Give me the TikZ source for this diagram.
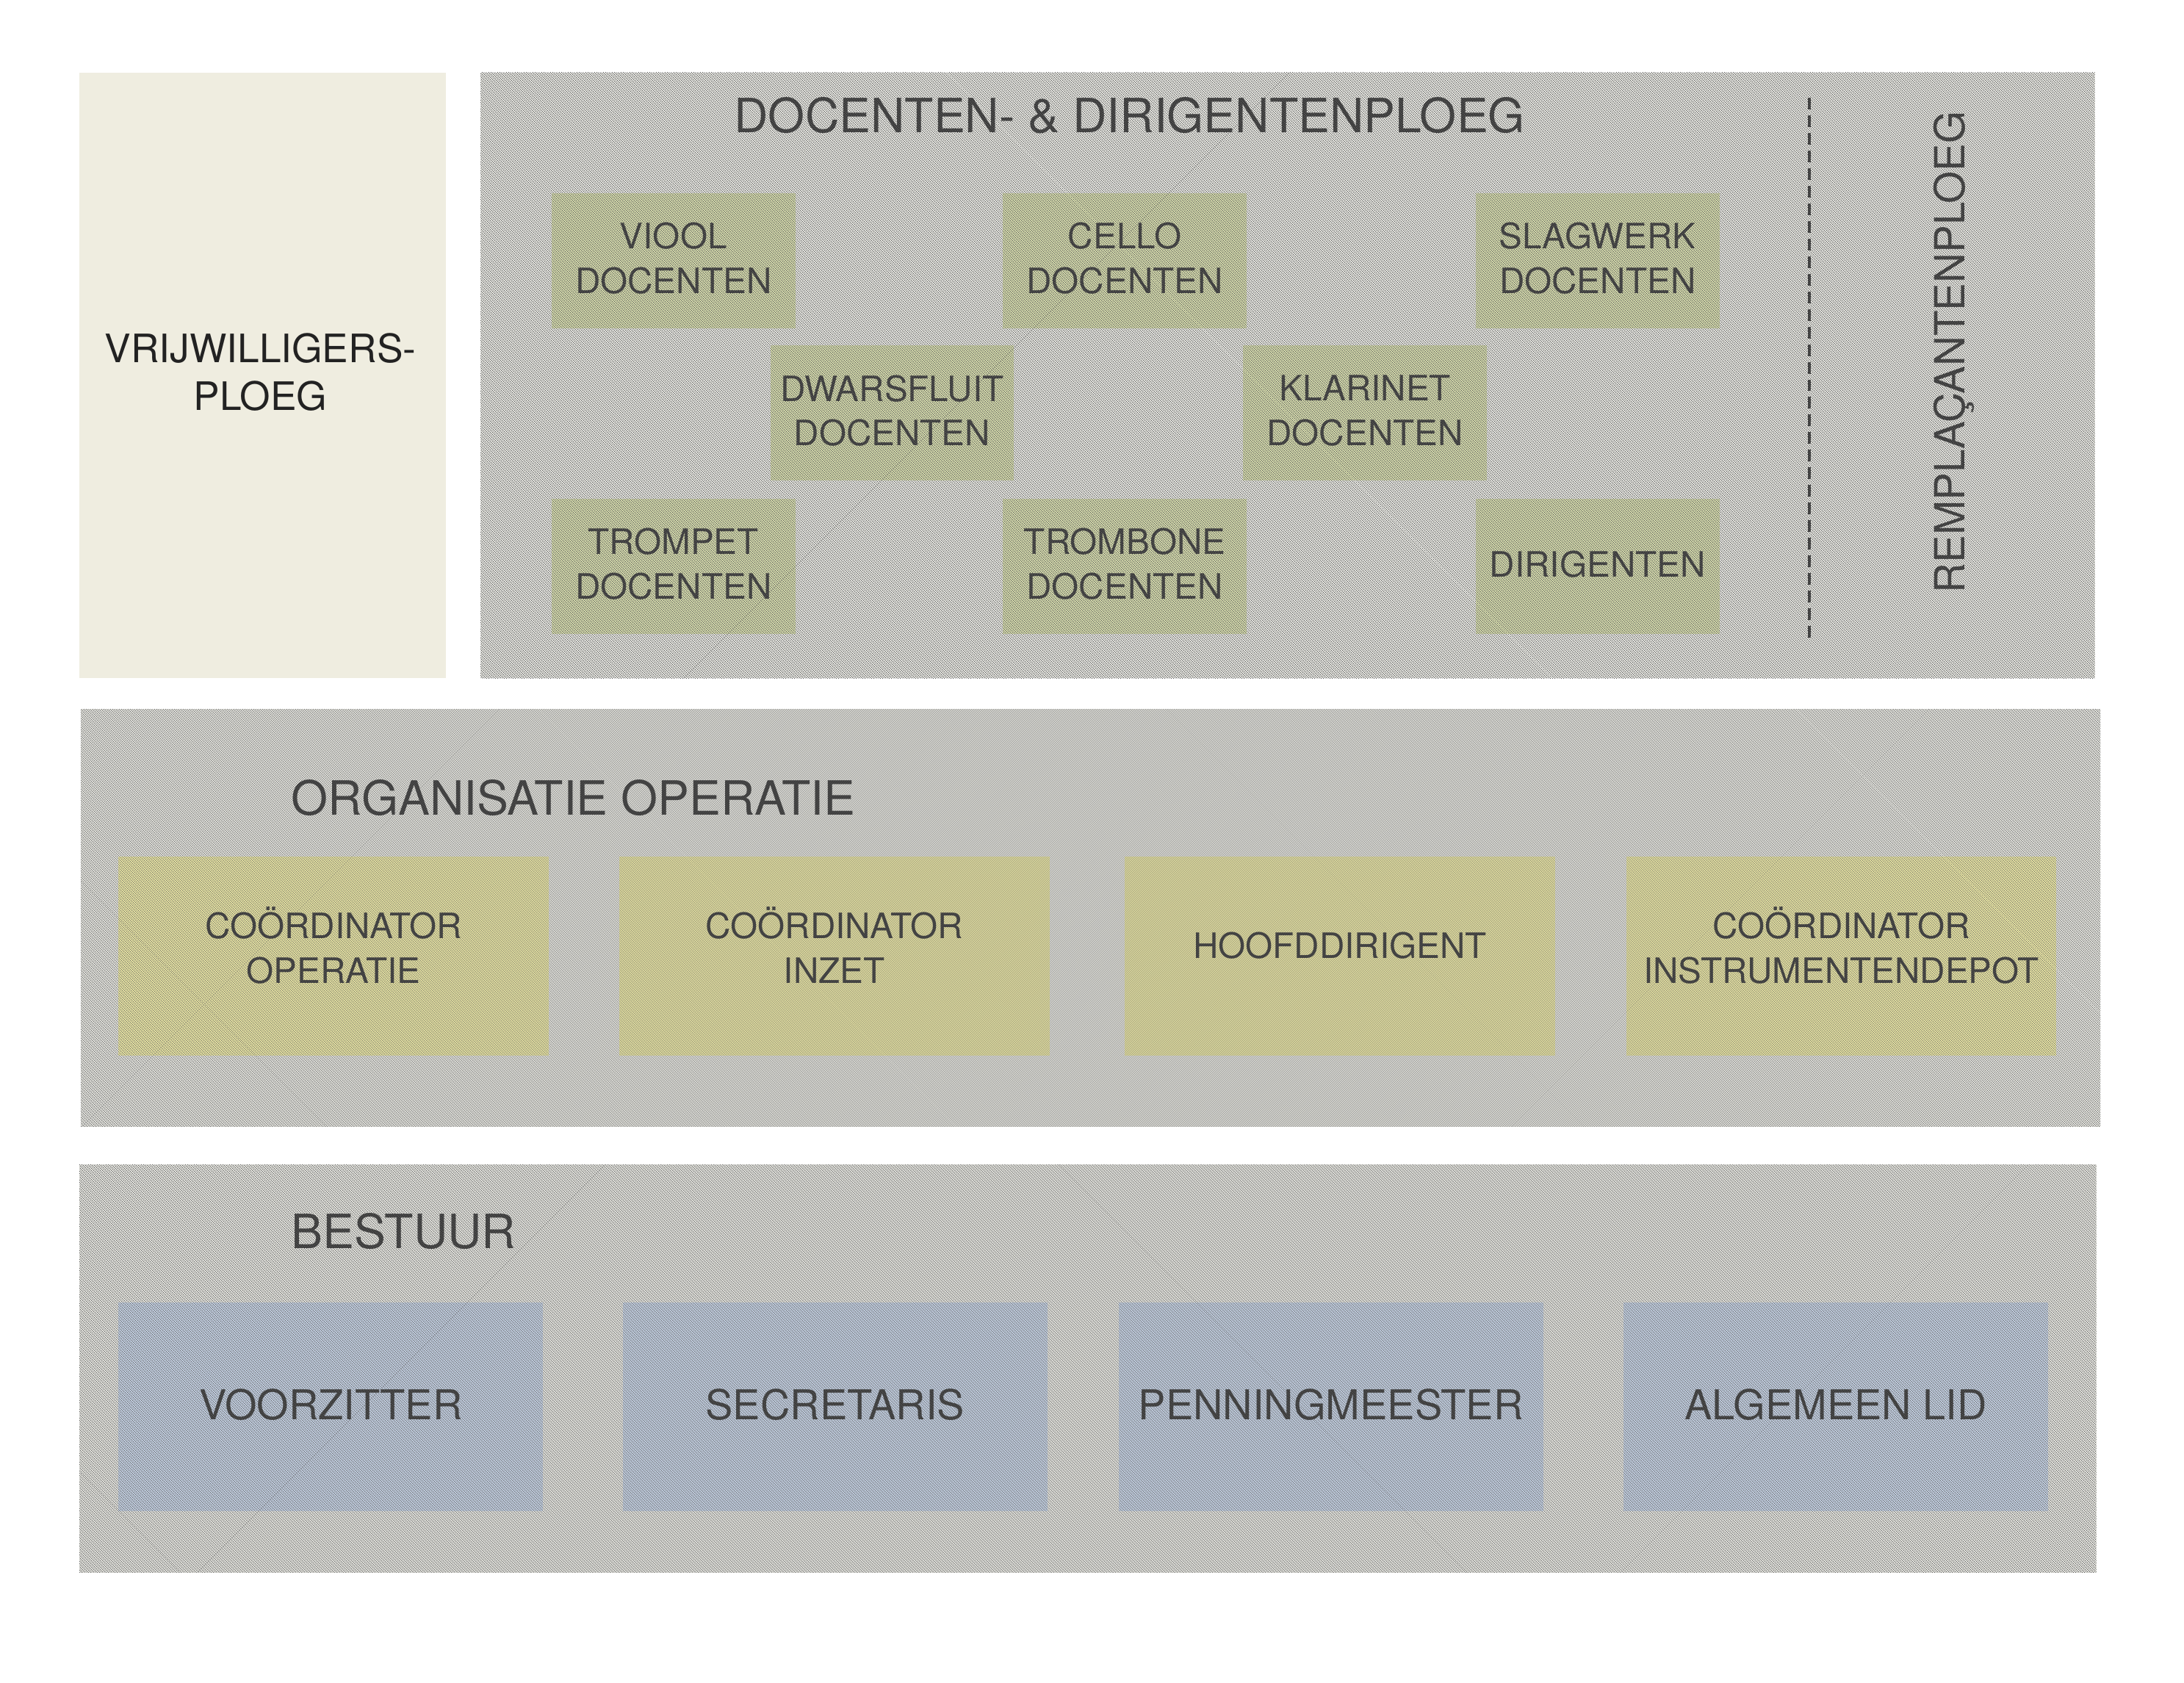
\documentclass[tikz,border=0pt]{standalone}
\usepackage{fontspec}
\setmainfont{TeX Gyre Heros}
\usetikzlibrary{patterns.meta}
\definecolor{vrijcream}{HTML}{EFEDE0}
\definecolor{ploeggray}{HTML}{E8E8E2}
\definecolor{hatchdark}{HTML}{5C5C5C}
\definecolor{vakgreen}{HTML}{D6DCAB}
\definecolor{vakyellow}{HTML}{EFEBA6}
\definecolor{vakblue}{HTML}{C6D3E6}
\definecolor{txtdark}{HTML}{3A3A3A}
\definecolor{txtblack}{HTML}{222222}
\begin{document}
\begin{tikzpicture}[x=0.02cm, y=-0.02cm,
    hatch/.style={pattern={Lines[angle=45,distance=0.9pt,line width=0.42pt]}, pattern color=hatchdark},
    lbl/.style={text=txtdark, align=center, inner sep=0pt, font=\fontsize{14.3}{18.2}\selectfont},
    docent/.style={lbl, fill=vakgreen, minimum width=3.5cm, minimum height=1.94cm},
    coord/.style={lbl, fill=vakyellow, minimum width=6.18cm, minimum height=2.86cm, text depth=9pt},
    bestuurder/.style={lbl, fill=vakblue, minimum width=6.1cm, minimum height=3cm, font=\fontsize{16.8}{20}\selectfont, text depth=2pt},
    titel/.style={text=txtdark, inner sep=0pt, font=\fontsize{19.3}{23}\selectfont}]
\useasboundingbox (0,0) rectangle (1568,1208);

% vrijwilligersploeg
\fill[vrijcream] (57,52) rectangle (320,487);
\node[text=txtblack, align=center, font=\fontsize{16}{19.5}\selectfont] (vrij) at (187,267) {VRIJWILLIGERS-\\PLOEG\hspace{0.6em}};

% docenten- & dirigentenploeg
\fill[ploeggray] (345,52) rectangle (1504,487);
\foreach \n/\x/\y/\t in {viool/483.5/187/{VIOOL\\DOCENTEN}, cello/807.5/187/{CELLO\\DOCENTEN},
    slagwerk/1147/187/{SLAGWERK\\DOCENTEN}, dwarsfluit/640.5/296.5/{DWARSFLUIT\\DOCENTEN},
    klarinet/980/296.5/{KLARINET\\DOCENTEN}, trompet/483.5/406.5/{TROMPET\\DOCENTEN},
    trombone/807.5/406.5/{TROMBONE\\DOCENTEN}, dirigenten/1147/406.5/{DIRIGENTEN}}
  \node[docent, text depth=2pt] (\n) at (\x,\y) {\t};
\node[titel] (docenten) at (811,83) {DOCENTEN- \& DIRIGENTENPLOEG};
\coordinate (stipA) at (1299,70);
\coordinate (stipB) at (1299,462);
\draw[txtdark, line width=1.1pt, dash pattern=on 4.8pt off 2.4pt] (stipA) -- (stipB);
\node[titel, rotate=90, font=\fontsize{17}{21}\selectfont] (remplacanten) at (1403,253) {REMPLAÇANTENPLOEG};
\fill[hatch] (345,52) rectangle (1504,487);

% organisatie operatie
\fill[ploeggray] (58,509) rectangle (1508,809);
\node[titel, anchor=west] (organisatie) at (209,573) {ORGANISATIE OPERATIE};
\node[coord] (coperatie) at (239.5,686.5) {COÖRDINATOR\\OPERATIE};
\node[coord] (cinzet) at (599,686.5) {COÖRDINATOR\\INZET};
\node[coord] (hoofddirigent) at (962,686.5) {HOOFDDIRIGENT};
\node[coord] (cdepot) at (1322,686.5) {COÖRDINATOR\\INSTRUMENTENDEPOT};
\fill[hatch] (58,509) rectangle (1508,809);

% bestuur
\fill[ploeggray] (57,836) rectangle (1505,1129);
\node[titel, anchor=west] (bestuur) at (209,884) {BESTUUR};
\node[bestuurder] (voorzitter) at (237.5,1010) {VOORZITTER};
\node[bestuurder] (secretaris) at (599.5,1010) {SECRETARIS};
\node[bestuurder] (penningmeester) at (955.5,1010) {PENNINGMEESTER};
\node[bestuurder] (lid) at (1318,1010) {ALGEMEEN LID};
\fill[hatch] (57,836) rectangle (1505,1129);
\end{tikzpicture}
\end{document}
